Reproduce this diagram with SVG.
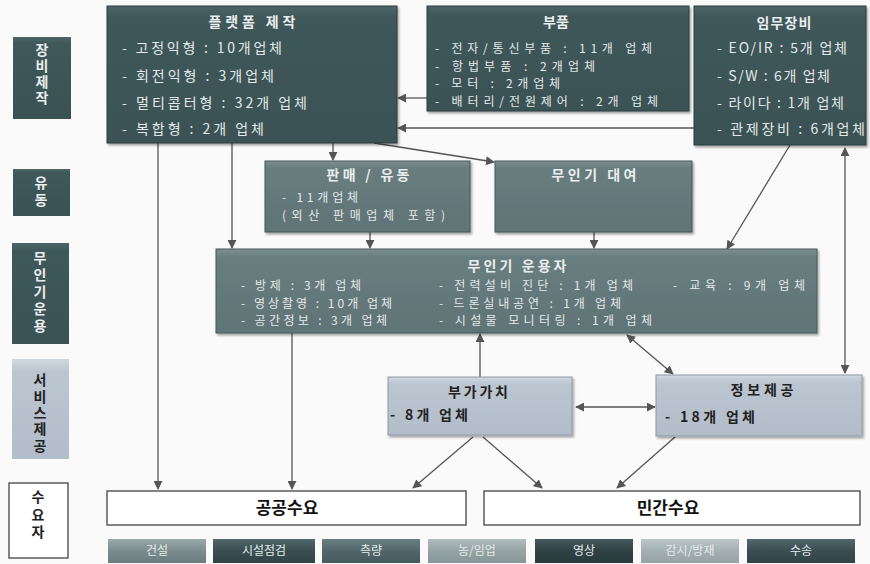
<svg xmlns="http://www.w3.org/2000/svg" width="870" height="564" viewBox="0 0 870 564">
<defs>
<linearGradient id="gDark" x1="0" y1="0" x2="0" y2="1"><stop offset="0" stop-color="#4d6567"/><stop offset="0.08" stop-color="#3f585a"/><stop offset="1" stop-color="#3a5254"/></linearGradient>
<linearGradient id="gMid" x1="0" y1="0" x2="0" y2="1"><stop offset="0" stop-color="#7c8f91"/><stop offset="0.1" stop-color="#687d7f"/><stop offset="1" stop-color="#607476"/></linearGradient>
<linearGradient id="gLight" x1="0" y1="0" x2="0" y2="1"><stop offset="0" stop-color="#d0d8e0"/><stop offset="0.12" stop-color="#bcc6d1"/><stop offset="1" stop-color="#b2bdc9"/></linearGradient>
<linearGradient id="t1" x1="0" y1="0" x2="0" y2="1"><stop offset="0" stop-color="#9aaaac"/><stop offset="0.5" stop-color="#7a8c8e"/><stop offset="1" stop-color="#6a7c7e"/></linearGradient>
<linearGradient id="t2" x1="0" y1="0" x2="0" y2="1"><stop offset="0" stop-color="#52676a"/><stop offset="0.5" stop-color="#3a4e51"/><stop offset="1" stop-color="#314447"/></linearGradient>
<linearGradient id="t3" x1="0" y1="0" x2="0" y2="1"><stop offset="0" stop-color="#6a7f82"/><stop offset="0.5" stop-color="#50666a"/><stop offset="1" stop-color="#465b5e"/></linearGradient>
<linearGradient id="t4" x1="0" y1="0" x2="0" y2="1"><stop offset="0" stop-color="#b0bcbe"/><stop offset="0.5" stop-color="#95a3a5"/><stop offset="1" stop-color="#879698"/></linearGradient>
<linearGradient id="t5" x1="0" y1="0" x2="0" y2="1"><stop offset="0" stop-color="#46595c"/><stop offset="0.5" stop-color="#2e4144"/><stop offset="1" stop-color="#273a3c"/></linearGradient>
<linearGradient id="t6" x1="0" y1="0" x2="0" y2="1"><stop offset="0" stop-color="#bcc6c8"/><stop offset="0.5" stop-color="#a3afb1"/><stop offset="1" stop-color="#96a3a5"/></linearGradient>
<filter id="sh" x="-5%" y="-5%" width="110%" height="120%"><feDropShadow dx="1.5" dy="2" stdDeviation="1.2" flood-color="#000" flood-opacity="0.35"/></filter>
<marker id="ah" viewBox="0 0 10 10" refX="9" refY="5" markerWidth="9" markerHeight="9" markerUnits="userSpaceOnUse" orient="auto-start-reverse"><path d="M0,0 L10,5 L0,10 z" fill="#555"/></marker>
</defs>
<style>
text{font-family:"Noto Sans CJK KR","Noto Sans",sans-serif;}
.dk{fill:url(#gDark);stroke:#2c3c3e;stroke-width:1;filter:url(#sh);}
.md{fill:url(#gMid);stroke:#44585a;stroke-width:1;filter:url(#sh);}
.lt{fill:url(#gLight);stroke:#8e9aa6;stroke-width:1;filter:url(#sh);}
.wb{fill:#fff;stroke:#444;stroke-width:1.3;}
.tt{fill:#e8eded;font-size:14px;font-weight:bold;text-anchor:middle;}
.it{fill:#e2e8e8;font-size:14px;}
.it2{fill:#e2e8e8;font-size:12px;}
.dt{fill:#222;font-size:14px;font-weight:bold;}
.vl{font-size:14px;font-weight:bold;writing-mode:vertical-rl;}
.lb{fill:#e8eded;}
.lbd{fill:#222;}
.dm{fill:#111;font-size:17px;font-weight:bold;text-anchor:middle;}
.tg{fill:#e4e9e9;font-size:12px;text-anchor:middle;}
.cn{fill:none;stroke:#555;stroke-width:1.3;}
</style>
<rect width="870" height="564" fill="#fafafa"/>

<g id="label-make"><rect x="13" y="37" width="58" height="82" fill="url(#gDark)"/><text class="vl lb" x="42" y="43" letter-spacing="2">장비제작</text></g>
<g id="label-dist"><rect x="13" y="169" width="57" height="47" fill="url(#gDark)"/><text class="vl lb" x="41" y="176" letter-spacing="3">유동</text></g>
<g id="label-op"><rect x="12" y="243" width="57" height="101" fill="url(#gDark)"/><text class="vl lb" x="40" y="251" letter-spacing="3">무인기운용</text></g>
<g id="label-svc"><rect x="12" y="359" width="57" height="100" fill="url(#gLight)"/><text class="vl lbd" x="40" y="373" letter-spacing="2.3">서비스제공</text></g>
<g id="label-demand"><rect x="9" y="483" width="59" height="75" class="wb"/><text class="vl lbd" x="38" y="490" letter-spacing="3.5">수요자</text></g>

<g id="connectors">
<line class="cn" x1="427" y1="98" x2="398" y2="98" marker-end="url(#ah)"/>
<line class="cn" x1="694" y1="128" x2="398" y2="128" marker-end="url(#ah)"/>
<line class="cn" x1="158" y1="143" x2="158" y2="489" marker-end="url(#ah)"/>
<line class="cn" x1="232" y1="143" x2="232" y2="248" marker-end="url(#ah)"/>
<line class="cn" x1="333" y1="143" x2="333" y2="160" marker-end="url(#ah)"/>
<line class="cn" x1="374" y1="143" x2="494" y2="162" marker-end="url(#ah)"/>
<line class="cn" x1="370" y1="232" x2="370" y2="248" marker-end="url(#ah)"/>
<line class="cn" x1="594" y1="232" x2="594" y2="248" marker-end="url(#ah)"/>
<line class="cn" x1="790" y1="145" x2="727" y2="249" marker-end="url(#ah)"/>
<line class="cn" x1="845" y1="148" x2="845" y2="373" marker-start="url(#ah)" marker-end="url(#ah)"/>
<line class="cn" x1="292" y1="333" x2="292" y2="489" marker-end="url(#ah)"/>
<line class="cn" x1="480" y1="377" x2="480" y2="334" marker-end="url(#ah)"/>
<line class="cn" x1="627" y1="335" x2="673" y2="374" marker-start="url(#ah)" marker-end="url(#ah)"/>
<line class="cn" x1="576" y1="407" x2="655" y2="407" marker-start="url(#ah)" marker-end="url(#ah)"/>
<line class="cn" x1="473" y1="437" x2="413" y2="488" marker-end="url(#ah)"/>
<line class="cn" x1="483" y1="437" x2="542" y2="488" marker-end="url(#ah)"/>
<line class="cn" x1="675" y1="437" x2="617" y2="488" marker-end="url(#ah)"/>
</g>

<g id="platform">
<rect class="dk" x="107" y="6" width="290" height="137"/>
<text class="tt" x="252" y="27" textLength="87">플랫폼 제작</text>
<text class="it" x="122" y="53" textLength="160">- 고정익형 : 10개업체</text>
<text class="it" x="122" y="81" textLength="152">- 회전익형 : 3개업체</text>
<text class="it" x="122" y="108" textLength="185">- 멀티콥터형 : 32개 업체</text>
<text class="it" x="122" y="134" textLength="142">- 복합형 : 2개 업체</text>
</g>
<g id="parts">
<rect class="dk" x="427" y="6" width="262" height="105"/>
<text class="tt" x="556" y="27" textLength="26">부품</text>
<text class="it2" x="435" y="53" textLength="217">- 전자/통신부품 : 11개 업체</text>
<text class="it2" x="435" y="70.5" textLength="160">- 항법부품 : 2개업체</text>
<text class="it2" x="435" y="88" textLength="125">- 모터 : 2개업체</text>
<text class="it2" x="435" y="105.5" textLength="223">- 배터리/전원제어 : 2개 업체</text>
</g>
<g id="mission">
<rect class="dk" x="694" y="6" width="172" height="139"/>
<text class="tt" x="784" y="28" textLength="55">임무장비</text>
<text class="it" x="717" y="53" textLength="130">- EO/IR : 5개 업체</text>
<text class="it" x="717" y="81" textLength="113">- S/W : 6개 업체</text>
<text class="it" x="717" y="108" textLength="127">- 라이다 : 1개 업체</text>
<text class="it" x="717" y="134" textLength="148">- 관제장비 : 6개업체</text>
</g>
<g id="sales">
<rect class="md" x="265" y="161" width="205" height="71"/>
<text class="tt" x="368" y="180" textLength="83">판매 / 유동</text>
<text class="it2" x="282" y="202" textLength="76">- 11개업체</text>
<text class="it2" x="282" y="219.5" textLength="163">(외산 판매업체 포함)</text>
</g>
<g id="rental">
<rect class="md" x="495" y="161" width="197" height="71"/>
<text class="tt" x="594" y="180" textLength="85">무인기 대여</text>
</g>
<g id="operator">
<rect class="md" x="216" y="249" width="601" height="84"/>
<text class="tt" x="517" y="271" textLength="99">무인기 운용자</text>
<text class="it2" x="241" y="290" textLength="120">- 방제 : 3개 업체</text>
<text class="it2" x="241" y="307.5" textLength="151">- 영상촬영 : 10개 업체</text>
<text class="it2" x="241" y="325" textLength="146">- 공간정보 : 3개 업체</text>
<text class="it2" x="439" y="290" textLength="194">- 전력설비 진단 : 1개 업체</text>
<text class="it2" x="439" y="307.5" textLength="182">- 드론실내공연 : 1개 업체</text>
<text class="it2" x="439" y="325" textLength="213">- 시설물 모니터링 : 1개 업체</text>
<text class="it2" x="673" y="290" textLength="132">- 교육 : 9개 업체</text>
</g>
<g id="value">
<rect class="lt" x="388" y="377" width="184" height="58"/>
<text class="dt" x="478" y="397" text-anchor="middle" textLength="60">부가가치</text>
<text class="dt" x="390" y="420" textLength="78">- 8개 업체</text>
</g>
<g id="info">
<rect class="lt" x="656" y="375" width="206" height="61"/>
<text class="dt" x="762" y="395" text-anchor="middle" textLength="63">정보제공</text>
<text class="dt" x="665" y="422" textLength="90">- 18개 업체</text>
</g>
<g id="public">
<rect class="wb" x="107" y="491" width="359" height="34"/>
<text class="dm" x="287" y="514">공공수요</text>
</g>
<g id="private">
<rect class="wb" x="484" y="491" width="376" height="34"/>
<text class="dm" x="668" y="514">민간수요</text>
</g>
<g id="tags">
<rect x="108" y="539" width="98" height="24" fill="url(#t1)"/><text class="tg" x="157" y="555">건설</text>
<rect x="213" y="539" width="102" height="24" fill="url(#t2)"/><text class="tg" x="264" y="555">시설점검</text>
<rect x="322" y="539" width="98" height="24" fill="url(#t3)"/><text class="tg" x="371" y="555">측량</text>
<rect x="428" y="539" width="98" height="24" fill="url(#t4)"/><text class="tg" x="477" y="555">농/임업</text>
<rect x="535" y="539" width="98" height="24" fill="url(#t5)"/><text class="tg" x="584" y="555">영상</text>
<rect x="641" y="539" width="98" height="24" fill="url(#t6)"/><text class="tg" x="690" y="555">감시/방재</text>
<rect x="747" y="539" width="108" height="24" fill="url(#t2)"/><text class="tg" x="801" y="555">수송</text>
</g>
</svg>
